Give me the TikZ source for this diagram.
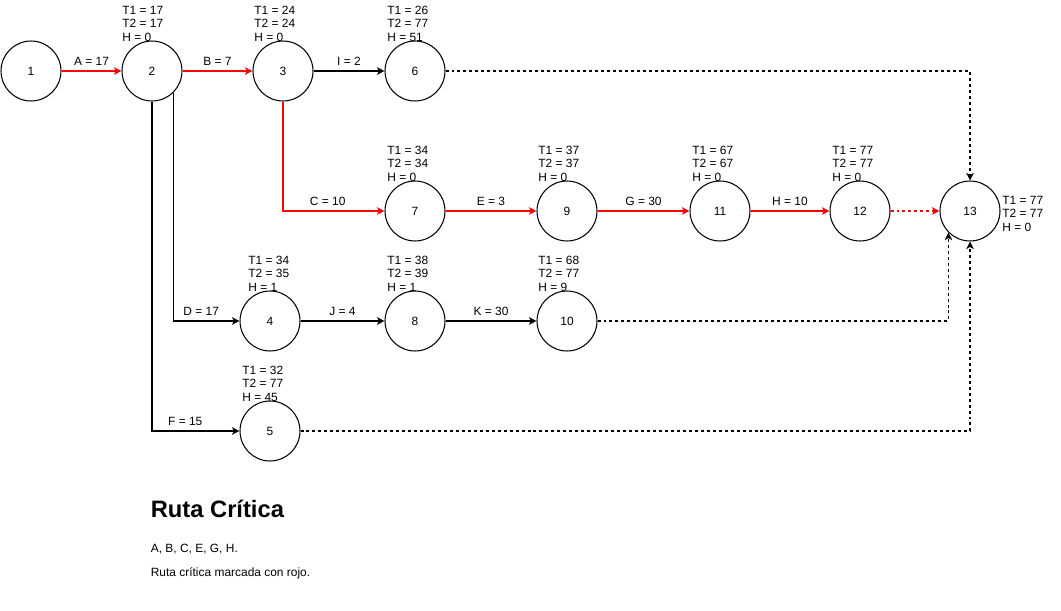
\documentclass[tikz,border=0pt]{standalone}
\usepackage{fontspec}
\setmainfont{Liberation Sans}
\definecolor{critred}{RGB}{255, 0, 0}
\usetikzlibrary{arrows.meta, positioning}
\newcommand{\nfont}{\fontsize{6.8pt}{7.7pt}\selectfont}

\begin{document}
\begin{tikzpicture}[x=0.02cm, y=-0.02cm,
  event/.style={draw, circle, minimum size=1.2cm, inner sep=0pt, line width=0.6pt, font=\nfont},
  info/.style={anchor=north west, align=left, inner sep=0pt, font=\nfont},
  act/.style={-{Stealth[length=4.3pt, width=4.3pt, inset=1.2pt]}, line width=0.6pt},
  crit/.style={act, color=critred},
  dummy/.style={act, dash pattern=on 1.7pt off 1.7pt},
  lbl/.style={above, inner sep=3pt, font=\nfont, text=black}
]
  \useasboundingbox (0,0) rectangle (1061,611);

  % Events
  \node[event] (n1) at (31,71) {1};
  \node[event] (n2) at (152,71) {2};
  \node[event] (n3) at (283,71) {3};
  \node[event] (n6) at (415,71) {6};
  \node[event] (n7) at (415,211) {7};
  \node[event] (n9) at (567,211) {9};
  \node[event] (n11) at (720,211) {11};
  \node[event] (n12) at (860,211) {12};
  \node[event] (n13) at (970,211) {13};
  \node[event] (n4) at (270,321) {4};
  \node[event] (n8) at (415,321) {8};
  \node[event] (n10) at (567,321) {10};
  \node[event] (n5) at (270,431) {5};

  % Times and slack
  \node[info] (t2) at (122,5.5) {T1 = 17\\T2 = 17\\H = 0};
  \node[info] (t3) at (254,5.5) {T1 = 24\\T2 = 24\\H = 0};
  \node[info] (t6) at (387,5.5) {T1 = 26\\T2 = 77\\H = 51};
  \node[info] (t7) at (387,145.5) {T1 = 34\\T2 = 34\\H = 0};
  \node[info] (t9) at (538,145.5) {T1 = 37\\T2 = 37\\H = 0};
  \node[info] (t11) at (692,145.5) {T1 = 67\\T2 = 67\\H = 0};
  \node[info] (t12) at (832,145.5) {T1 = 77\\T2 = 77\\H = 0};
  \node[info] (t13) at (1002,195.5) {T1 = 77\\T2 = 77\\H = 0};
  \node[info] (t4) at (248,255.5) {T1 = 34\\T2 = 35\\H = 1};
  \node[info] (t8) at (387,255.5) {T1 = 38\\T2 = 39\\H = 1};
  \node[info] (t10) at (538,255.5) {T1 = 68\\T2 = 77\\H = 9};
  \node[info] (t5) at (242,365.5) {T1 = 32\\T2 = 77\\H = 45};

  % Activities
  \draw[crit] (n1) -- node[lbl] {A = 17} (n2);
  \draw[crit] (n2) -- node[lbl] {B = 7} (n3);
  \draw[act] (n3) -- node[lbl] {I = 2} (n6);
  \draw[crit] (n3) |- node[lbl, pos=0.72] {C = 10} (n7);
  \draw[crit] (n7) -- node[lbl] {E = 3} (n9);
  \draw[crit] (n9) -- node[lbl] {G = 30} (n11);
  \draw[crit] (n11) -- node[lbl] {H = 10} (n12);
  \draw[act] (n2.-45) |- node[lbl, pos=0.71] {D = 17} (n4);
  \draw[act] (n4) -- node[lbl] {J = 4} (n8);
  \draw[act] (n8) -- node[lbl] {K = 30} (n10);
  \draw[act] (n2) |- node[lbl, pos=0.69] {F = 15} (n5);

  % Dummies
  \draw[crit, dummy] (n12) -- (n13);
  \draw[dummy] (n6) -| (n13);
  \draw[dummy] (n10) -| (n13.-135);
  \draw[dummy] (n5) -| (n13);

  % Summary
  \node[anchor=base west, inner sep=0pt, font=\bfseries\fontsize{13.5pt}{16pt}\selectfont] (title) at (150.5,517) {Ruta Crítica};
  \node[anchor=base west, inner sep=0pt, font=\nfont] (route) at (150.5,552.5) {A, B, C, E, G, H.};
  \node[anchor=base west, inner sep=0pt, font=\nfont] (note) at (150.5,576) {Ruta crítica marcada con rojo.};
\end{tikzpicture}
\end{document}
